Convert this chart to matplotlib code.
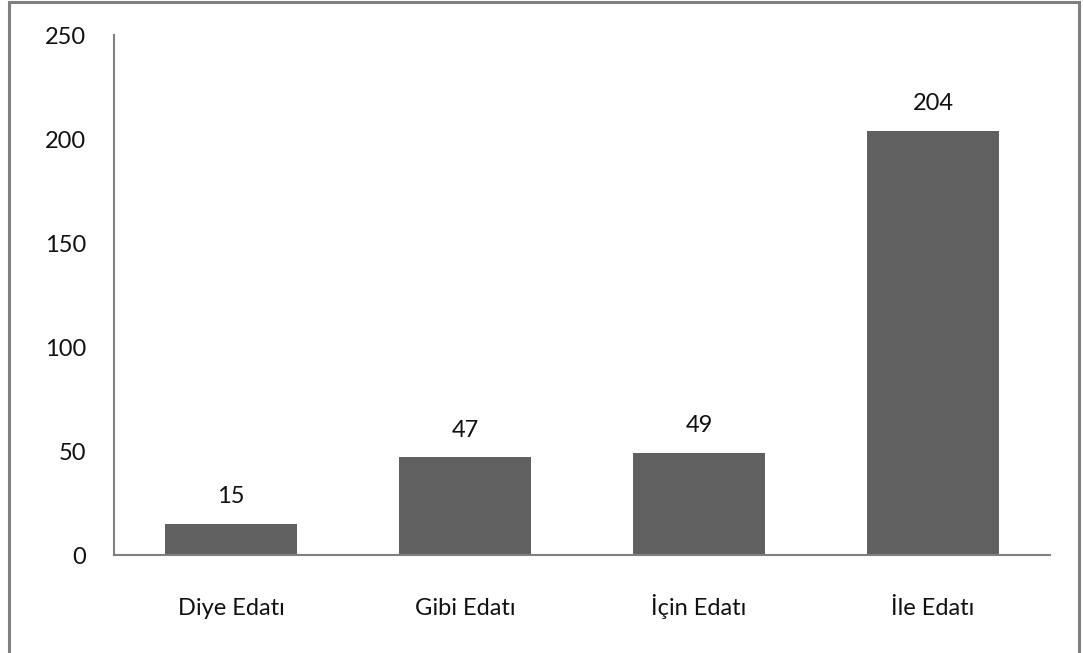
import matplotlib.pyplot as plt
from matplotlib.patches import Rectangle

# data
categories = ["Diye Edatı", "Gibi Edatı", "İçin Edatı", "İle Edatı"]
values = [15, 47, 49, 204]
yticks = [0, 50, 100, 150, 200, 250]

plt.rcParams['font.family'] = ['Lato', 'DejaVu Sans']

W, H = 1083, 653
fig = plt.figure(figsize=(W / 100, H / 100), dpi=100)

# axes box in pixels: x 114..1050, y 35..555
ax = fig.add_axes([114 / W, 1 - 555 / H, (1050 - 114) / W, (555 - 35) / H])

x = range(len(categories))
bars = ax.bar(x, values, width=0.565, color='#606060', zorder=2)
for xi, v in zip(x, values):
    ax.annotate(str(v), (xi, v), xytext=(0, 12), textcoords='offset points',
                ha='center', va='bottom', fontsize=17, color='#111111')

ax.set_xlim(-0.5, len(categories) - 0.5)
ax.set_ylim(0, 250)
ax.set_yticks(yticks)
ax.set_xticks(list(x))
ax.set_xticklabels(categories, va='baseline')
ax.tick_params(axis='both', length=0, labelsize=17, colors='#111111')
ax.tick_params(axis='y', pad=20)
ax.tick_params(axis='x', pad=43)

for s in ['top', 'right']:
    ax.spines[s].set_visible(False)
for s in ['left', 'bottom']:
    ax.spines[s].set_color('#808080')
    ax.spines[s].set_linewidth(1.5)

# outer frame
fig.patches.append(Rectangle((8.5 / W, -0.05), (1079 - 8.5) / W, 1.05 - 2.5 / H,
                             transform=fig.transFigure, fill=False,
                             edgecolor='#808080', linewidth=2.2))

fig.savefig('out.png', dpi=100)
